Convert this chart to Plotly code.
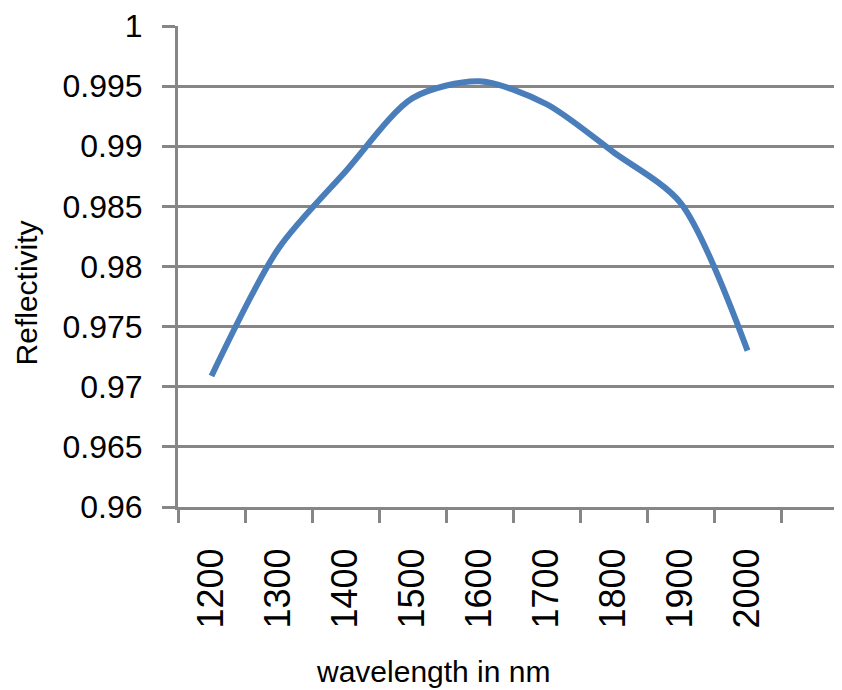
import plotly.graph_objects as go

wavelengths = ["1200", "1300", "1400", "1500", "1600", "1700", "1800", "1900", "2000"]
reflectivity = [0.9709, 0.9815, 0.9879, 0.9940, 0.9954, 0.9935, 0.9895, 0.9853, 0.9730]
y_ticks = [0.96, 0.965, 0.97, 0.975, 0.98, 0.985, 0.99, 0.995, 1.0]
y_tick_text = ["0.96", "0.965", "0.97", "0.975", "0.98", "0.985", "0.99", "0.995", "1"]

GRID = "#868686"
FONT = "Liberation Sans, Arial, sans-serif"

fig = go.Figure()
fig.add_trace(go.Scatter(
    x=wavelengths, y=reflectivity, mode="lines",
    line=dict(color="#4A7EBB", width=6, shape="spline", smoothing=0.8),
    showlegend=False, hoverinfo="skip",
))

fig.update_layout(
    width=834, height=682,
    margin=dict(l=170, r=0, t=18, b=183),
    paper_bgcolor="white", plot_bgcolor="white",
    font=dict(family=FONT, color="black"),
    xaxis=dict(
        type="category", range=[-0.5, 9.41],
        tickson="boundaries", ticks="outside", ticklen=13, tickwidth=2.5, tickcolor=GRID,
        tickangle=-90, tickfont=dict(size=36, family=FONT),
        showgrid=False, showline=True, linecolor=GRID, linewidth=3,
        ticklabelstandoff=24,
        zeroline=False,
    ),
    yaxis=dict(
        range=[0.96, 1.0], tickvals=y_ticks, ticktext=y_tick_text,
        ticks="outside", ticklen=13, tickwidth=2.5, tickcolor=GRID,
        tickfont=dict(size=32, family=FONT),
        showgrid=True, gridcolor=GRID, gridwidth=2.5,
        showline=True, linecolor=GRID, linewidth=3,
        ticklabelstandoff=13,
        zeroline=False,
    ),
    annotations=[
        dict(text="Reflectivity", textangle=-90, xref="paper", yref="paper",
             x=-0.2289, y=0.444, xanchor="center", yanchor="middle", borderpad=0,
             showarrow=False, font=dict(size=30, family=FONT, color="black")),
        dict(text="wavelength in nm", xref="paper", yref="paper",
             x=0.384, y=-0.342, xanchor="center", yanchor="middle",
             showarrow=False, font=dict(size=30, family=FONT, color="black")),
    ],
)

fig.write_html("out.html")
